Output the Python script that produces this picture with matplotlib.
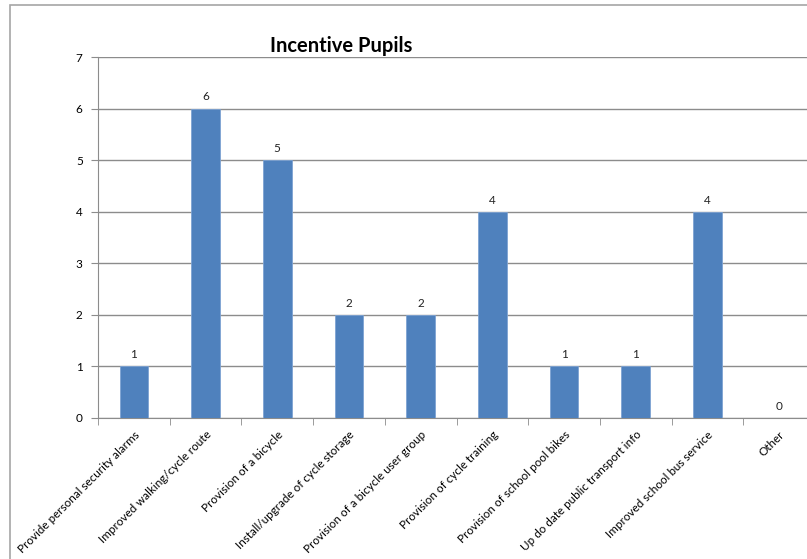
import numpy as np
import matplotlib.pyplot as plt
from matplotlib.patches import Rectangle

plt.rcParams['font.family'] = ['Lato', 'DejaVu Sans']

# Survey results
incentives = ['Provide personal security alarms', 'Improved walking/cycle route',
              'Provision of a bicycle', 'Install/upgrade of cycle storage',
              'Provision of a bicycle user group', 'Provision of cycle training',
              'Provision of school pool bikes', 'Up do date public transport info',
              'Improved school bus service', 'Other']
pupils = [1, 6, 5, 2, 2, 4, 1, 1, 4, 0]
y_ticks = [0, 1, 2, 3, 4, 5, 6, 7]

fig = plt.figure(figsize=(8.07, 5.59), dpi=100)

# chart border
fig.patches.append(Rectangle((10/807, -0.1), 1.2, 1.1 - 5/559, transform=fig.transFigure,
                             fill=False, edgecolor='#a6a6a6', linewidth=1.2))

ax = fig.add_axes([98/807, 1 - 418/559, 717/807, 361/559])
x = np.arange(len(incentives))
ax.bar(x, pupils, width=0.4, color='#4f81bd', edgecolor='#7ea3d3', linewidth=0.6, zorder=3)

for xi, v in zip(x, pupils):
    ax.text(xi, v + 0.12, str(v), ha='center', va='bottom', fontsize=8.5, color='#222222')

ax.set_xlim(-0.5, len(incentives) - 0.5)
ax.set_ylim(0, 7)
ax.set_yticks(y_ticks)
ax.yaxis.grid(True, color='#8c8c8c', linewidth=1.0, zorder=0)
ax.set_axisbelow(True)

ax.set_xticks(x)
ax.set_xticklabels(incentives, rotation=45, ha='right', va='top', rotation_mode='anchor',
                   fontsize=8.4)
ax.set_xticks(np.arange(len(incentives) + 1) - 0.5, minor=True)
ax.tick_params(axis='x', which='major', length=0, pad=8)
ax.tick_params(axis='x', which='minor', length=5, color='#8c8c8c')
ax.tick_params(axis='y', length=5, color='#8c8c8c', labelsize=8.5, pad=6)

for side in ['top', 'right']:
    ax.spines[side].set_visible(False)
for side in ['left', 'bottom']:
    ax.spines[side].set_color('#8c8c8c')

fig.text(341/807, 1 - 46/559, 'Incentive Pupils', ha='center', va='center',
         fontsize=14.5, fontweight='bold')

plt.savefig('out.png', dpi=100)
